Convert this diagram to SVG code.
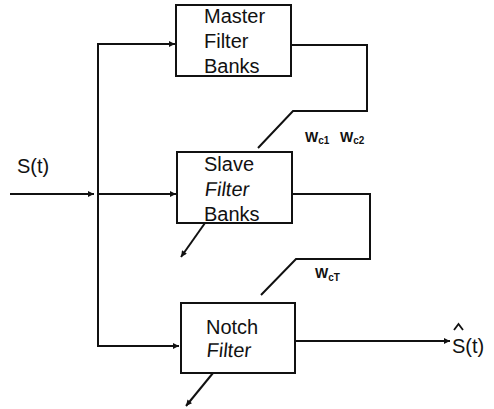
<svg xmlns="http://www.w3.org/2000/svg" width="494" height="409" viewBox="0 0 494 409">
<defs>
<marker id="ah" viewBox="0 0 10 10" refX="10" refY="5" markerWidth="7" markerHeight="6" markerUnits="userSpaceOnUse" orient="auto">
<path d="M0,0 L10,5 L0,10 z" fill="#111"/>
</marker>
</defs>
<style>
.box{fill:#fff;stroke:#111;stroke-width:2}
.ln{fill:none;stroke:#111;stroke-width:2}
.t{font-family:"Liberation Sans",Arial,sans-serif;font-size:20px;fill:#111}
.w{font-family:"Liberation Sans",Arial,sans-serif;font-size:14px;font-weight:bold;fill:#111}
.sub{font-size:10px}
</style>
<rect width="494" height="409" fill="#fff"/>
<g id="connectors">
<line class="ln" x1="10" y1="194" x2="94" y2="194" marker-end="url(#ah)"/>
<polyline class="ln" points="98,44 98,346 179,346" marker-end="url(#ah)"/>
<line class="ln" x1="97" y1="44" x2="175" y2="44" marker-end="url(#ah)"/>
<line class="ln" x1="98" y1="194" x2="176" y2="194" marker-end="url(#ah)"/>
<polyline class="ln" points="291,45 367,45 367,111 293,111 258,148"/>
<polyline class="ln" points="292,194 370,194 370,259 296,259 261,295"/>
<line class="ln" x1="205" y1="223" x2="181" y2="257" marker-end="url(#ah)"/>
<line class="ln" x1="213" y1="373" x2="186" y2="406" marker-end="url(#ah)"/>
<line class="ln" x1="295" y1="341" x2="450" y2="341" marker-end="url(#ah)"/>
</g>
<g id="master">
<rect class="box" x="176" y="5" width="115" height="71"/>
<text class="t" x="204" y="23">Master</text>
<text class="t" x="204" y="48">Filter</text>
<text class="t" x="204" y="73">Banks</text>
</g>
<g id="slave">
<rect class="box" x="177" y="152" width="115" height="71"/>
<text class="t" x="204" y="171">Slave</text>
<text class="t" transform="translate(204,196) skewX(-8)">Filter</text>
<text class="t" x="204" y="221">Banks</text>
</g>
<g id="notch">
<rect class="box" x="181" y="303" width="114" height="70"/>
<text class="t" x="206" y="334">Notch</text>
<text class="t" transform="translate(206,357) skewX(-6)">Filter</text>
</g>
<g id="labels">
<text class="t" x="17" y="173">S(t)</text>
<text class="t" x="452" y="353">S(t)</text>
<polyline points="454,330 458.5,324 463,330" fill="none" stroke="#111" stroke-width="1.8"/>
<text class="w" x="305" y="142">W<tspan class="sub" dy="2">c1</tspan></text>
<text class="w" x="340" y="142">W<tspan class="sub" dy="2">c2</tspan></text>
<text class="w" x="315" y="278">W<tspan class="sub" dy="3">cT</tspan></text>
</g>
</svg>
